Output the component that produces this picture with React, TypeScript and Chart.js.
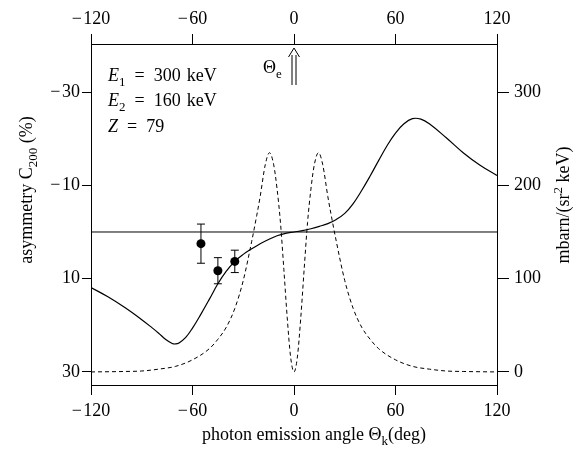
import React, { useEffect, useRef } from 'react';
import { Chart, registerables } from 'chart.js';

Chart.register(...registerables);

const FONT = '"Liberation Serif", "DejaVu Serif", serif';

// tick labels
const xTicks = [-120, -60, 0, 60, 120];
const leftTicks = [-30, -10, 10, 30];
const rightTicks = [0, 100, 200, 300];

// asymmetry curve (theory), left axis (%)
const asymAngles = [-120, -110, -100, -90, -84, -80, -76, -72, -70, -68, -64, -60, -55, -50, -45, -40, -35, -30, -25, -20, -15, -10, -5, 0, 5, 10, 15, 20, 25, 30, 35, 40, 45, 50, 55, 60, 65, 70, 75, 80, 90, 100, 110, 120];
const asymValues = [11.9, 13.9, 16.2, 18.8, 20.5, 21.7, 23.0, 23.9, 24.0, 23.8, 22.6, 20.6, 17.6, 14.4, 11.1, 8.4, 6.3, 4.8, 3.6, 2.5, 1.6, 0.8, 0.3, 0, -0.3, -0.7, -1.2, -1.8, -2.7, -4.0, -6.1, -8.9, -12.0, -15.3, -18.5, -21.2, -23.2, -24.3, -24.2, -23.2, -20.2, -17.0, -14.3, -12.1];

// cross section (dashed), right axis (mbarn/(sr^2 keV))
const crossAngles = [-120, -100, -90, -80, -70, -60, -50, -45, -40, -35, -30, -25, -22, -20, -17, -14.5, -12, -10, -8, -6, -4, -2, 0, 2, 4, 6, 8, 10, 12, 14.5, 17, 20, 22, 25, 30, 35, 40, 45, 50, 60, 70, 80, 90, 100, 120];
const crossValues = [0, 0.5, 1, 3, 6, 13, 25, 35, 48, 68, 98, 140, 168, 188, 222, 235, 222, 196, 160, 110, 58, 16, 0, 16, 58, 110, 160, 196, 222, 235, 222, 188, 168, 140, 98, 68, 48, 35, 25, 13, 6, 3, 1, 0.5, 0];

// measured asymmetry points
const measAngles = [-55, -45, -35];
const measValues = [2.5, 8.3, 6.3];
const measErrors = [4.2, 2.8, 2.4];

const fmt = (v: number) => (v < 0 ? '\u2212\u200A' + Math.abs(v) : String(v));

type Part = { t: string; italic?: boolean; sub?: boolean; sup?: boolean };

function drawRich(ctx: CanvasRenderingContext2D, parts: Part[], x: number, y: number, align: 'left' | 'center', size: number) {
  const fontOf = (p: Part) => `${p.italic ? 'italic ' : ''}${p.sub || p.sup ? Math.round(size * 0.72) : size}px ${FONT}`;
  let total = 0;
  const widths = parts.map((p) => {
    ctx.font = fontOf(p);
    const w = ctx.measureText(p.t).width;
    total += w;
    return w;
  });
  let cx = align === 'center' ? x - total / 2 : x;
  ctx.textBaseline = 'alphabetic';
  ctx.textAlign = 'left';
  parts.forEach((p, i) => {
    ctx.font = fontOf(p);
    const dy = p.sub ? size * 0.25 : p.sup ? -size * 0.4 : 0;
    ctx.fillText(p.t, cx, y + dy);
    cx += widths[i];
  });
}

const annotPlugin = {
  id: 'annot',
  afterDatasetsDraw(chart: any) {
    const ctx: CanvasRenderingContext2D = chart.ctx;
    const xs = chart.scales.x;
    const ys = chart.scales.y;
    ctx.save();
    ctx.strokeStyle = '#000';
    ctx.fillStyle = '#000';
    ctx.lineWidth = 1;
    // error bars
    measAngles.forEach((a, i) => {
      const px = xs.getPixelForValue(a);
      const y1 = ys.getPixelForValue(measValues[i] - measErrors[i]);
      const y2 = ys.getPixelForValue(measValues[i] + measErrors[i]);
      ctx.beginPath();
      ctx.moveTo(px, y1);
      ctx.lineTo(px, y2);
      ctx.moveTo(px - 4, y1);
      ctx.lineTo(px + 4, y1);
      ctx.moveTo(px - 4, y2);
      ctx.lineTo(px + 4, y2);
      ctx.stroke();
    });
    // electron direction arrow
    const ax = xs.getPixelForValue(0);
    ctx.beginPath();
    ctx.moveTo(ax - 2, 55);
    ctx.lineTo(ax - 2, 85);
    ctx.moveTo(ax + 2, 55);
    ctx.lineTo(ax + 2, 85);
    ctx.moveTo(ax - 5.5, 57);
    ctx.lineTo(ax, 48);
    ctx.lineTo(ax + 5.5, 57);
    ctx.stroke();
    ctx.restore();
  },
  afterDraw(chart: any) {
    const ctx: CanvasRenderingContext2D = chart.ctx;
    ctx.save();
    ctx.fillStyle = '#000';
    const S = 18;
    drawRich(ctx, [{ t: 'E', italic: true }, { t: '1', sub: true }, { t: '\u2002=\u2002300 \u200AkeV' }], 108, 81, 'left', S);
    drawRich(ctx, [{ t: 'E', italic: true }, { t: '2', sub: true }, { t: '\u2002=\u2002160 \u200AkeV' }], 108, 106, 'left', S);
    drawRich(ctx, [{ t: 'Z', italic: true }, { t: '\u2002=\u200279' }], 108, 132, 'left', S);
    drawRich(ctx, [{ t: '\u0398' }, { t: 'e', sub: true }], 263, 73, 'left', S);
    // bottom title
    drawRich(ctx, [{ t: 'photon emission angle \u0398' }, { t: 'k', sub: true }, { t: '(deg)' }], 314, 440, 'center', S);
    // left title
    ctx.save();
    ctx.translate(32, 190);
    ctx.rotate(-Math.PI / 2);
    drawRich(ctx, [{ t: 'asymmetry C' }, { t: '200', sub: true }, { t: ' (%)' }], 0, 0, 'center', S);
    ctx.restore();
    // right title
    ctx.save();
    ctx.translate(569, 205);
    ctx.rotate(-Math.PI / 2);
    drawRich(ctx, [{ t: 'mbarn/(sr' }, { t: '2', sup: true }, { t: ' keV)' }], 0, 0, 'center', S);
    ctx.restore();
    ctx.restore();
  },
};

export default function App() {
  const ref = useRef<HTMLCanvasElement>(null);
  useEffect(() => {
    if (!ref.current) return;
    const tickFont = { family: FONT, size: 18 };
    const axisCommon = (tickLength: number, padding: number) => ({
      type: 'linear' as const,
      display: true,
      grid: { drawOnChartArea: false, tickLength, color: '#000', tickColor: '#000', lineWidth: 1 },
      border: { display: true, color: '#000', width: 1 },
      ticks: { font: tickFont, color: '#000', padding, autoSkip: false, maxRotation: 0, callback: (v: any) => fmt(Number(v)) },
    });
    const chart = new Chart(ref.current, {
      type: 'scatter',
      data: {
        datasets: [
          {
            data: [{ x: -120, y: 0 }, { x: 120, y: 0 }],
            xAxisID: 'x', yAxisID: 'y', showLine: true, pointRadius: 0,
            borderColor: '#000', borderWidth: 1,
          },
          {
            data: crossAngles.map((a, i) => ({ x: a, y: crossValues[i] })),
            xAxisID: 'x', yAxisID: 'y2', showLine: true, pointRadius: 0,
            borderColor: '#000', borderWidth: 1, borderDash: [4, 3], cubicInterpolationMode: 'monotone',
          },
          {
            data: asymAngles.map((a, i) => ({ x: a, y: asymValues[i] })),
            xAxisID: 'x', yAxisID: 'y', showLine: true, pointRadius: 0,
            borderColor: '#000', borderWidth: 1.2, tension: 0.4,
          },
          {
            data: measAngles.map((a, i) => ({ x: a, y: measValues[i] })),
            xAxisID: 'x', yAxisID: 'y', showLine: false, pointRadius: 4.5,
            backgroundColor: '#000', borderColor: '#000', borderWidth: 0,
          },
        ] as any,
      },
      options: {
        responsive: false,
        animation: false,
        layout: { padding: 0 },
        plugins: { legend: { display: false }, tooltip: { enabled: false } },
        scales: {
          x: {
            ...axisCommon(10, 5), position: 'bottom', min: -120, max: 120,
            afterBuildTicks: (s: any) => { s.ticks = xTicks.map((v) => ({ value: v })); },
            afterFit: (s: any) => { s.height = 72; },
          },
          x2: {
            ...axisCommon(10, 4), position: 'top', min: -120, max: 120,
            afterBuildTicks: (s: any) => { s.ticks = xTicks.map((v) => ({ value: v })); },
            afterFit: (s: any) => { s.height = 44; },
          },
          y: {
            ...axisCommon(9, 2), position: 'left', reverse: true, min: -40.3, max: 32.8,
            afterBuildTicks: (s: any) => { s.ticks = leftTicks.map((v) => ({ value: v })); },
            afterFit: (s: any) => { s.width = 91; },
          },
          y2: {
            ...axisCommon(12, 5), position: 'right', min: -14, max: 351.5,
            afterBuildTicks: (s: any) => { s.ticks = rightTicks.map((v) => ({ value: v })); },
            afterFit: (s: any) => { s.width = 76; },
          },
        } as any,
      },
      plugins: [annotPlugin],
    });
    return () => chart.destroy();
  }, []);
  return (
    <div style={{ position: 'absolute', left: 0, top: 0, width: 573, height: 457, background: '#fff' }}>
      <canvas ref={ref} width={573} height={457} style={{ display: 'block' }} />
    </div>
  );
}
